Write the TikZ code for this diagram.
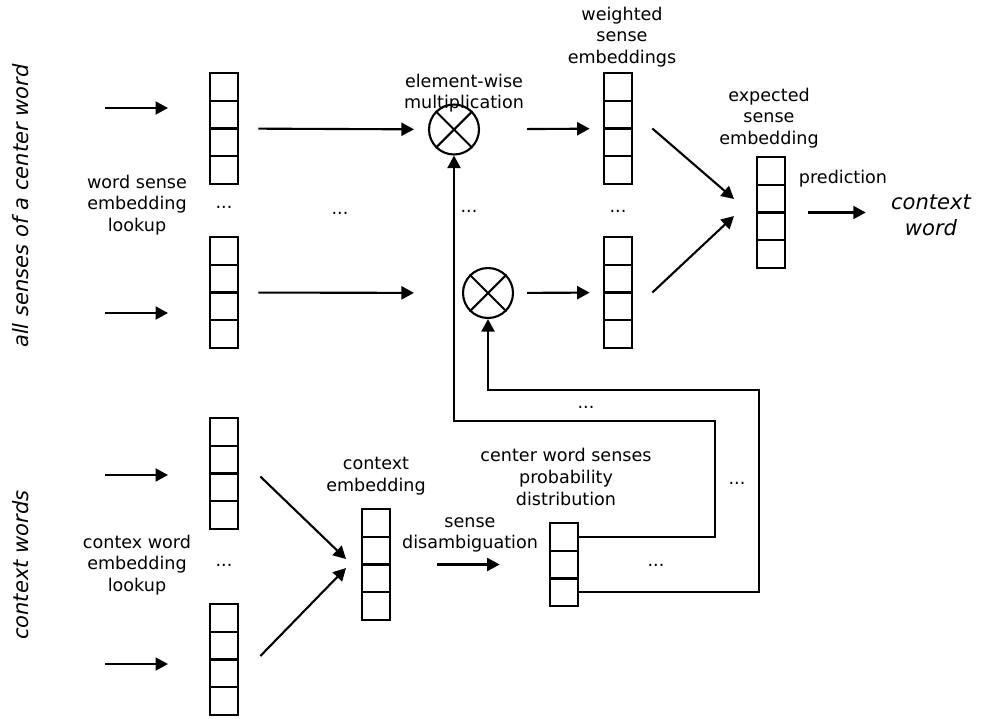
\documentclass[tikz,border=0pt]{standalone}
\usepackage{fontspec}
\setmainfont{DejaVu Sans}[ItalicFont={DejaVu Sans Oblique}]
\usetikzlibrary{arrows.meta,fit}

\newcommand{\embvec}[4]{%
  \foreach \k in {1,...,#4}{\node[cell] (#1-\k) at (#2,{#3+27.75*(\k-0.5)}) {};}
  \node[fit=(#1-1)(#1-#4),inner sep=0pt] (#1) {};}

\begin{document}
\begin{tikzpicture}[
  x=0.02cm,y=-0.02cm,
  cell/.style={draw,line width=1.2pt,minimum width=0.56cm,minimum height=0.555cm,inner sep=0pt,outer sep=0pt},
  mult/.style={draw,circle,line width=1.2pt,minimum size=1cm,inner sep=0pt},
  lbl/.style={align=center,inner sep=0pt,font=\fontsize{10}{12.3}\selectfont},
  side/.style={align=center,inner sep=0pt,font=\fontsize{12}{14.5}\selectfont\itshape},
  flow/.style={-{Triangle[length=2.5mm,width=2.6mm]},line width=1.2pt},
  wire/.style={line width=1.2pt}
]
\useasboundingbox (0,0) rectangle (982,718);

\embvec{sensA}{224}{73}{4}
\embvec{sensB}{224}{237}{4}
\embvec{wA}{618}{73}{4}
\embvec{wB}{618}{237}{4}
\embvec{exp}{771}{157}{4}
\embvec{ctxA}{224}{418}{4}
\embvec{ctxB}{224}{604}{4}
\embvec{ctxEmb}{376}{509}{4}
\embvec{prob}{564}{523}{3}

\node[mult] (mulA) at (454,129.5) {};
\node[mult] (mulB) at (488,293) {};
\foreach \m in {mulA,mulB}{\draw[wire] (\m.north west) -- (\m.south east) (\m.north east) -- (\m.south west);}

\node[side,rotate=90] (sideTop) at (21,206) {all senses of a center word};
\node[side,rotate=90] (sideBot) at (21,565) {context words};
\node[side] (word) at (931,215) {context\\word};

\node[lbl] (lookA) at (137,205) {word sense\\embedding\\lookup};
\node[lbl] (lookB) at (137,565) {contex word\\embedding\\lookup};
\node[lbl] (multTxt) at (464,93) {element-wise\\multiplication};
\node[lbl] (wTxt) at (622,37) {weighted\\sense\\embeddings};
\node[lbl] (expTxt) at (769,118) {expected\\sense\\embedding};
\node[lbl] (predTxt) at (843,179) {prediction};
\node[lbl] (ctxTxt) at (376,476) {context\\embedding};
\node[lbl] (disTxt) at (470,535) {sense\\disambiguation};
\node[lbl] (probTxt) at (566,477) {center word senses\\probability\\distribution};

\foreach \x/\y [count=\i] in {224/207,340/213,469/211,618/211,586/407,737/483,656/565,224/565}{\node[lbl] (dots\i) at (\x,\y) {...};}

\foreach \y [count=\i] in {108,313,475,664}{\coordinate (in\i) at (105,\y); \draw[flow] (in\i) -- ++(63,0);}

\coordinate (joinA) at (734,199);
\coordinate (joinB) at (734,216);
\coordinate (ctxJoinA) at (346,559);
\coordinate (ctxJoinB) at (346,568);
\coordinate (turnA) at (715,421);
\coordinate (turnB) at (759,390);

\draw[flow,shorten <=0.4cm,shorten >=0.28cm] (sensA) -- (mulA);
\draw[flow,shorten <=0.4cm,shorten >=0.96cm] (sensB) -- (mulB);
\draw[flow,shorten <=0.94cm,shorten >=0.28cm] (mulA) -- (wA);
\draw[flow,shorten <=0.26cm,shorten >=0.28cm] (mulB) -- (wB);
\draw[flow] ([xshift=0.4cm]wA.east) -- (joinA);
\draw[flow] ([xshift=0.4cm]wB.east) -- (joinB);
\draw[flow,shorten <=0.46cm,shorten >=0.5cm] (exp.east) -- (exp.east -| word.west);
\draw[flow] ([xshift=0.44cm,yshift=-0.06cm]ctxA.east) -- (ctxJoinA);
\draw[flow] ([xshift=0.44cm,yshift=0.07cm]ctxB.east) -- (ctxJoinB);
\draw[flow,shorten <=0.94cm,shorten >=1cm] (ctxEmb.east) -- (ctxEmb.east -| prob.west);
\draw[flow] (prob-1.east) -| (turnA) -| (mulA.south);
\draw[flow] (prob-3.east) -| (turnB) -| (mulB.south);
\end{tikzpicture}
\end{document}
